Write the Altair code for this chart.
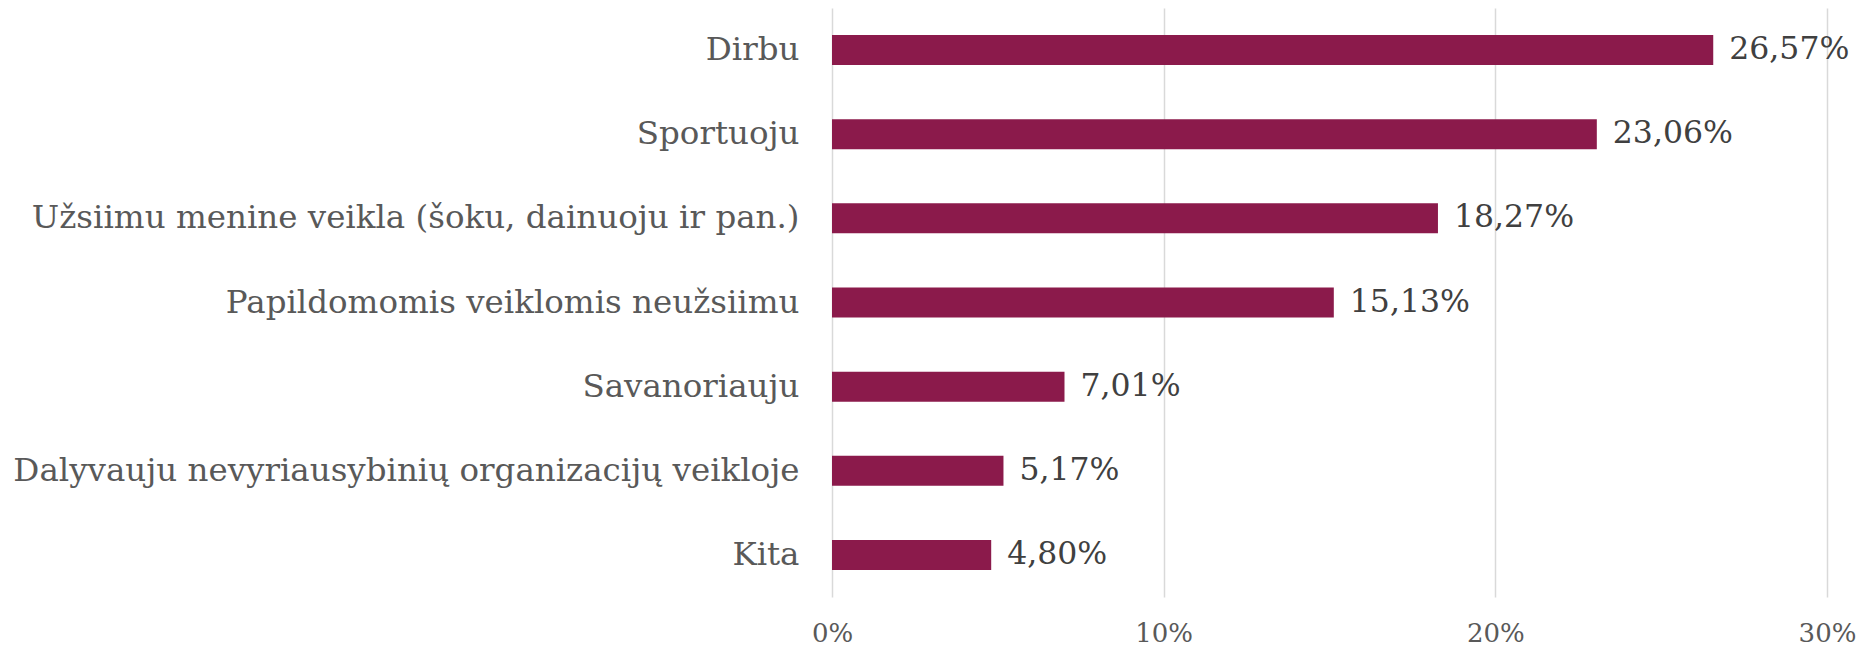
import altair as alt
import pandas as pd

categories = [
    "Dirbu",
    "Sportuoju",
    "Užsiimu menine veikla (šoku, dainuoju ir pan.)",
    "Papildomomis veiklomis neužsiimu",
    "Savanoriauju",
    "Dalyvauju nevyriausybinių organizacijų veikloje",
    "Kita",
]
values = [26.57, 23.06, 18.27, 15.13, 7.01, 5.17, 4.80]
value_labels = ["26,57%", "23,06%", "18,27%", "15,13%", "7,01%", "5,17%", "4,80%"]
x_ticks = [0, 10, 20, 30]

df = pd.DataFrame({"cat": categories, "val": values, "lab": value_labels})

FONT = "DejaVu Serif"

y_enc = alt.Y(
    "cat:N",
    sort=categories,
    title=None,
    scale=alt.Scale(paddingInner=0, paddingOuter=0),
    axis=alt.Axis(
        domain=False,
        ticks=False,
        grid=False,
        labelFont=FONT,
        labelFontSize=32.5,
        labelColor="#595959",
        labelPadding=33,
        labelLimit=1000,
    ),
)
x_enc = alt.X(
    "val:Q",
    title=None,
    scale=alt.Scale(domain=[0, 30], nice=False),
    axis=alt.Axis(
        values=x_ticks,
        labelExpr="datum.value + '%'",
        domain=False,
        ticks=False,
        grid=True,
        gridColor="#D9D9D9",
        gridWidth=1.5,
        labelFont=FONT,
        labelFontSize=26,
        labelColor="#595959",
        labelBaseline="middle",
        labelPadding=36,
        labelFlush=False,
        labelOverlap=False,
    ),
)

bars = alt.Chart(df).mark_bar(size=30, color="#8B1A4B").encode(y=y_enc, x=x_enc)
labels = alt.Chart(df).mark_text(
    align="left", baseline="middle", dx=16, font=FONT, fontSize=31.5, color="#404040"
).encode(y=alt.Y("cat:N", sort=categories), x="val:Q", text="lab:N")

chart = (
    (bars + labels)
    .properties(
        width=995,
        height=589,
        background="white",
        autosize=alt.AutoSizeParams(type="none"),
        padding={"left": 824, "top": 0, "right": 29, "bottom": 50},
    )
    .configure_view(stroke="transparent", strokeWidth=0)
)

chart.save("out.html", embed_options={"renderer": "svg", "actions": False})
